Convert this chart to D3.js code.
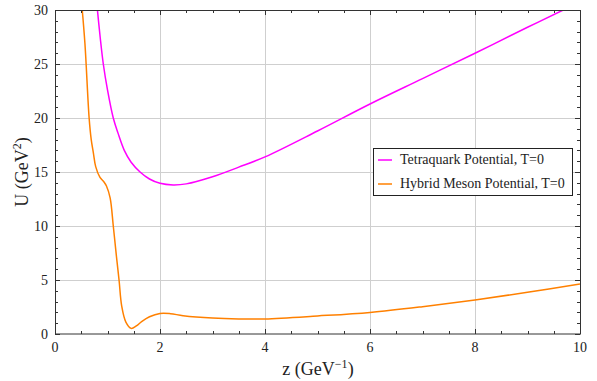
<!DOCTYPE html>
<html><head><meta charset="utf-8">
<script src="https://cdn.jsdelivr.net/npm/d3@7"></script>
<style>body{margin:0;background:#fff}svg{display:block}</style>
</head><body><svg id="c" width="597" height="381"></svg>
<script>
const xTicks = [0, 2, 4, 6, 8, 10];
const yTicks = [0, 5, 10, 15, 20, 25, 30];
const seriesNames = ["Tetraquark Potential, T=0", "Hybrid Meson Potential, T=0"];
const seriesColors = ["#ff00ff", "#ff8000"];
const tetraZ = [0.80,0.86,0.92,1.0,1.11,1.2,1.32,1.45,1.62,1.8,2.0,2.25,2.5,3.0,3.5,4.0,5.0,6.0,7.0,8.0,9.0,9.68,9.8];
const tetraU = [30.4,27.5,25,22.6,20,18.6,17,15.9,15,14.35,13.95,13.8,13.9,14.56,15.45,16.4,18.8,21.3,23.65,26.0,28.4,30,30.3];
const hybridZ = [0.51,0.57,0.65,0.69,0.73,0.775,0.857,0.93,0.98,1.05,1.11,1.17,1.22,1.27,1.35,1.45,1.55,1.65,1.8,2.0,2.2,2.44,3.0,3.5,4.0,5.0,6.0,7.0,8.0,9.0,10.0];
const hybridU = [30.5,26.9,20,18,16.8,15.5,14.5,14.1,13.7,12.6,10,7.2,5,2.6,1.1,0.52,0.75,1.15,1.6,1.9,1.88,1.7,1.48,1.4,1.4,1.67,2.0,2.53,3.15,3.86,4.63];

const FONT = "'Liberation Serif', 'Times New Roman', Times, serif";
const svg = d3.select("#c");
const L = 55, R = 580, T = 10, B = 334;
const x = d3.scaleLinear().domain([0, 10]).range([L, R]);
const y = d3.scaleLinear().domain([0, 30]).range([B, T]);

const g = svg.append("g");
g.selectAll(".gx").data(xTicks.slice(1, -1)).join("line")
  .attr("x1", d => Math.round(x(d)) + 0.5).attr("x2", d => Math.round(x(d)) + 0.5).attr("y1", T).attr("y2", B)
  .attr("stroke", "#cfcfcf").attr("stroke-width", 1);
g.selectAll(".gy").data(yTicks.slice(1, -1)).join("line")
  .attr("y1", d => Math.round(y(d)) + 0.5).attr("y2", d => Math.round(y(d)) + 0.5).attr("x1", L).attr("x2", R)
  .attr("stroke", "#cfcfcf").attr("stroke-width", 1);

svg.append("clipPath").attr("id", "clip").append("rect")
  .attr("x", L).attr("y", T).attr("width", R - L).attr("height", B - T);

const line = d3.line().x(d => x(d[0])).y(d => y(d[1])).curve(d3.curveCatmullRom.alpha(0.5));
const series = [d3.zip(tetraZ, tetraU), d3.zip(hybridZ, hybridU)];
svg.append("g").attr("clip-path", "url(#clip)").selectAll("path").data(series).join("path")
  .attr("d", line).attr("fill", "none")
  .attr("stroke", (d, i) => seriesColors[i]).attr("stroke-width", 1.5);

svg.append("rect").attr("x", L + 0.5).attr("y", T + 0.5).attr("width", R - L).attr("height", B - T - 0.5)
  .attr("fill", "none").attr("stroke", "#333").attr("stroke-width", 1);

const xMinor = d3.range(0, 10.01, 0.5);
const yMinor = d3.range(0, 30.01, 1);
const tk = svg.append("g").attr("stroke", "#333").attr("stroke-width", 1);
xMinor.forEach(v => {
  const len = (v % 2 === 0) ? 5 : 3;
  const px = Math.round(x(v)) + 0.5;
  tk.append("line").attr("x1", px).attr("x2", px).attr("y1", B).attr("y2", B - len);
  tk.append("line").attr("x1", px).attr("x2", px).attr("y1", T).attr("y2", T + len);
});
yMinor.forEach(v => {
  const len = (v % 5 === 0) ? 5 : 3;
  const py = Math.round(y(v)) + 0.5;
  tk.append("line").attr("y1", py).attr("y2", py).attr("x1", L).attr("x2", L + len);
  tk.append("line").attr("y1", py).attr("y2", py).attr("x1", R).attr("x2", R - len);
});

svg.selectAll(".xl").data(xTicks).join("text")
  .attr("x", d => x(d)).attr("y", 352).attr("text-anchor", "middle")
  .attr("font-family", FONT).attr("fill", "#222")
  .attr("font-size", 14).text(d => d);
svg.selectAll(".yl").data(yTicks).join("text")
  .attr("x", 48).attr("y", d => y(d) + 5).attr("text-anchor", "end")
  .attr("font-family", FONT).attr("fill", "#222")
  .attr("font-size", 14).text(d => d);

const xt = svg.append("text").attr("x", 318).attr("y", 375).attr("text-anchor", "middle")
  .attr("font-family", FONT).attr("fill", "#222").attr("font-size", 18);
xt.append("tspan").text("z (GeV");
xt.append("tspan").attr("dy", -7).attr("font-size", 12).text("\u22121");
xt.append("tspan").attr("dy", 7).text(")");
const yt = svg.append("text").attr("transform", "translate(28,172) rotate(-90)").attr("text-anchor", "middle")
  .attr("font-family", FONT).attr("fill", "#222").attr("font-size", 18);
yt.append("tspan").text("U (GeV");
yt.append("tspan").attr("dy", -7).attr("font-size", 12).text("2");
yt.append("tspan").attr("dy", 7).text(")");

const lg = svg.append("g");
lg.append("rect").attr("x", 373.5).attr("y", 148.5).attr("width", 199).attr("height", 47)
  .attr("fill", "#fff").attr("stroke", "#222").attr("stroke-width", 1);
seriesNames.forEach((n, i) => {
  const yy = 164 + i * 24;
  lg.append("line").attr("x1", 378).attr("x2", 392).attr("y1", yy - 4).attr("y2", yy - 4)
    .attr("stroke", seriesColors[i]).attr("stroke-width", 1.5);
  lg.append("text").attr("x", 400).attr("y", yy).attr("font-size", 14)
    .attr("font-family", FONT).attr("fill", "#222").text(n);
});
</script></body></html>
